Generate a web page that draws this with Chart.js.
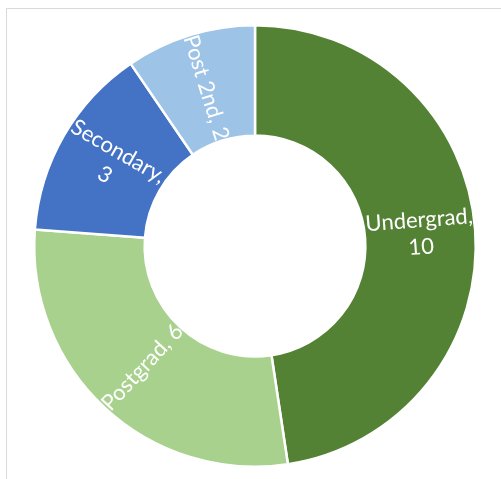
<!DOCTYPE html>
<html>
<head>
<meta charset="utf-8">
<script src="https://cdn.jsdelivr.net/npm/chart.js@4/dist/chart.umd.min.js"></script>
<style>
  html, body { margin: 0; padding: 0; background: #ffffff; }
  #wrap { width: 501px; height: 479px; }
</style>
</head>
<body>
<div id="wrap"><canvas id="eduChart" width="501" height="479"></canvas></div>
<script>
// ── Data ──
const categories = ['Undergrad', 'Postgrad', 'Secondary', 'Post 2nd'];
const counts = [10, 6, 3, 2];
const sliceColors = ['#548235', '#A9D18E', '#4472C4', '#9DC3E6'];

const LABEL_FONT = "22px Lato, 'Noto Sans', sans-serif";
const LINE_H = 27;
const WRAP_AT = 118;

// Light frame on the top and left edges
const framePlugin = {
  id: 'frame',
  beforeDraw(chart) {
    const { ctx, width, height } = chart;
    ctx.save();
    ctx.strokeStyle = '#d9d9d9';
    ctx.lineWidth = 1;
    ctx.beginPath();
    ctx.moveTo(6.5, height);
    ctx.lineTo(6.5, 8.5);
    ctx.lineTo(width, 8.5);
    ctx.stroke();
    ctx.restore();
  }
};

// "Category, value" labels, written along the radius of each slice
const sliceLabels = {
  id: 'sliceLabels',
  afterDatasetsDraw(chart) {
    const { ctx } = chart;
    const meta = chart.getDatasetMeta(0);
    ctx.save();
    ctx.font = LABEL_FONT;
    ctx.fillStyle = '#ffffff';
    ctx.textAlign = 'center';
    ctx.textBaseline = 'middle';
    meta.data.forEach((arc, i) => {
      const { x, y, startAngle, endAngle, innerRadius, outerRadius } =
        arc.getProps(['x', 'y', 'startAngle', 'endAngle', 'innerRadius', 'outerRadius'], true);
      const mid = (startAngle + endAngle) / 2;
      const r = (innerRadius + outerRadius) / 2;
      const px = x + Math.cos(mid) * r;
      const py = y + Math.sin(mid) * r;

      // keep the text upright
      let rot = Math.atan2(Math.sin(mid), Math.cos(mid));
      if (rot > Math.PI / 2) rot -= Math.PI;
      if (rot < -Math.PI / 2) rot += Math.PI;

      const full = categories[i] + ', ' + counts[i];
      const lines = ctx.measureText(full).width > WRAP_AT
        ? [categories[i] + ',', String(counts[i])]
        : [full];

      ctx.save();
      ctx.translate(px, py);
      ctx.rotate(rot);
      const top = -((lines.length - 1) * LINE_H) / 2;
      lines.forEach((ln, k) => ctx.fillText(ln, 0, top + k * LINE_H));
      ctx.restore();
    });
    ctx.restore();
  }
};

new Chart(document.getElementById('eduChart'), {
  type: 'doughnut',
  data: {
    labels: categories,
    datasets: [{
      data: counts,
      backgroundColor: sliceColors,
      borderColor: '#ffffff',
      borderWidth: 2.5,
      hoverOffset: 0,
      offset: 0
    }]
  },
  options: {
    responsive: false,
    animation: false,
    cutout: '50%',
    layout: { padding: { left: 33, right: 24, top: 24, bottom: 11 } },
    plugins: {
      legend: { display: false },
      tooltip: { enabled: false }
    }
  },
  plugins: [framePlugin, sliceLabels]
});
</script>
</body>
</html>
